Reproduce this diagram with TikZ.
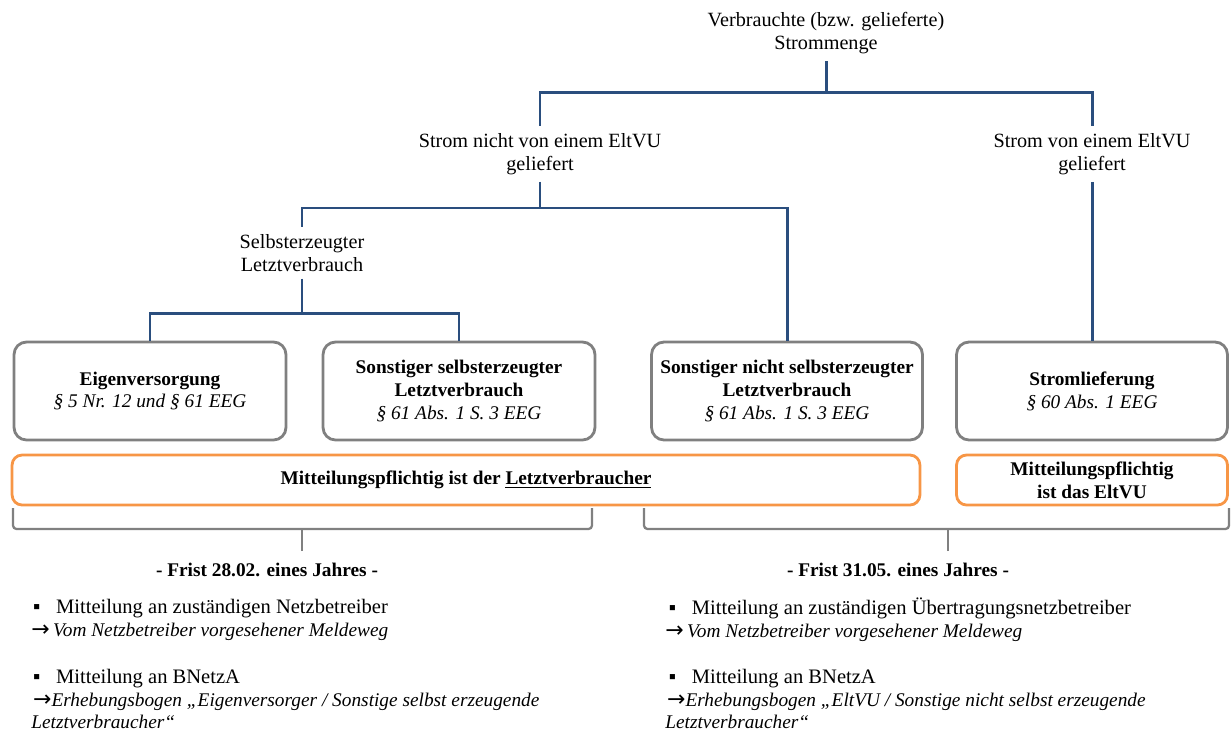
\documentclass[tikz,border=0pt]{standalone}
\usepackage{fontspec}
\setmainfont{Liberation Serif}
\newfontfamily\pfeilfont{DejaVu Sans}
\usetikzlibrary{positioning}

\definecolor{treeblue}{HTML}{2A4E7E}
\definecolor{casegray}{HTML}{808080}
\definecolor{dutyorange}{HTML}{F79646}

% Pfeil und kursiver Text in den Listen
\newcommand{\pfeil}{{\pfeilfont\fontsize{12.5}{13}\selectfont →}}
\newcommand{\kursiv}[1]{{\fontsize{11}{13}\selectfont\itshape #1}}

\begin{document}
\begin{tikzpicture}[
            x=0.02cm, y=-0.02cm,
            every node/.style={font=\fontsize{11}{13}\selectfont},
            label/.style={
                    align=center,
                    inner sep=4pt,
                    font=\fontsize{11.5}{13}\selectfont
                },
            case/.style={
                    rectangle,
                    rounded corners=0.25cm,
                    draw=casegray,
                    line width=1.6pt,
                    minimum width=5.44cm,
                    minimum height=1.96cm,
                    align=center
                },
            duty/.style={
                    rectangle,
                    rounded corners=0.2cm,
                    draw=dutyorange,
                    line width=1.6pt,
                    minimum height=1.0cm,
                    align=center,
                    font=\fontsize{11}{13}\selectfont\bfseries
                },
            frist/.style={
                    font=\fontsize{11}{13}\selectfont\bfseries
                },
            tree/.style={
                    draw=treeblue,
                    line width=1.7pt
                },
            brace/.style={
                    draw=casegray,
                    line width=1.3pt,
                    rounded corners=2pt
                },
            item/.style={
                    anchor=west,
                    align=left,
                    inner sep=0pt,
                    font=\fontsize{11.7}{13}\selectfont
                }
            ]

            \useasboundingbox (0,0) rectangle (1231,731);

            % Baum der Strommengen
            \node (menge) [label] at (826,33) {Verbrauchte (bzw. gelieferte)\\Strommenge};
            \node (nichtvu) [label] at (540,154) {Strom nicht von einem EltVU\\geliefert};
            \node (vonvu) [label] at (1092,154) {Strom von einem EltVU\\geliefert};
            \node (selbst) [label] at (302,253) {Selbsterzeugter\\Letztverbrauch};

            % Fallgruppen
            \node (eigen) [case] at (150,391) {\textbf{Eigenversorgung}\\\textit{§ 5 Nr. 12 und § 61 EEG}};
            \node (sonstselbst) [case] at (459,391) {\textbf{Sonstiger selbsterzeugter}\\\textbf{Letztverbrauch}\\\textit{§ 61 Abs. 1 S. 3 EEG}};
            \node (sonstnicht) [case, minimum width=5.42cm] at (787,391) {\textbf{Sonstiger nicht selbsterzeugter}\\\textbf{Letztverbrauch}\\\textit{§ 61 Abs. 1 S. 3 EEG}};
            \node (lieferung) [case, minimum width=5.42cm] at (1092,391) {\textbf{Stromlieferung}\\\textit{§ 60 Abs. 1 EEG}};

            % Mitteilungspflicht
            \node (pflichtlv) [duty, minimum width=18.16cm] at (466,480) {Mitteilungspflichtig ist der \underline{Letztverbraucher}};
            \node (pflichtvu) [duty, minimum width=5.42cm] at (1092,480) {Mitteilungspflichtig\\ist das EltVU};

            % Linien
            \draw [tree] (menge.south) -- ++(0,31) -| (nichtvu.north);
            \draw [tree] (menge.south) -- ++(0,31) -| (vonvu.north);
            \draw [tree] (nichtvu.south) -- ++(0,26) -| (selbst.north);
            \draw [tree] (nichtvu.south) -- ++(0,26) -| (sonstnicht.north);
            \draw [tree] (selbst.south) -- ++(0,35) -| (eigen.north);
            \draw [tree] (selbst.south) -- ++(0,35) -| (sonstselbst.north);
            \draw [tree] (vonvu.south) -- (lieferung.north);

            % Klammern
            \coordinate (bl1) at (13,508);
            \coordinate (bl2) at (592,508);
            \coordinate (blm) at (302,529);
            \coordinate (bl3) at (302,551);
            \coordinate (br1) at (644,508);
            \coordinate (br2) at (1229,508);
            \coordinate (brm) at (948,529);
            \coordinate (br3) at (948,551);
            \draw [brace] (bl1) |- (blm) -| (bl2);
            \draw [brace] (bl3) -- (blm);
            \draw [brace] (br1) |- (brm) -| (br2);
            \draw [brace] (br3) -- (brm);

            % Fristen
            \node (fristlv) [frist] at (267,570) {- Frist 28.02. eines Jahres -};
            \node (fristvu) [frist] at (898,570) {- Frist 31.05. eines Jahres -};

            \node (netzlv) [item] at (31,620) {\hspace*{1pt}▪\hspace{9pt}Mitteilung an zuständigen Netzbetreiber\\\pfeil\,\kursiv{Vom Netzbetreiber vorgesehener Meldeweg}};
            \node (bnetzlv) [item] at (31,699) {\hspace*{1pt}▪\hspace{9pt}Mitteilung an BNetzA\\\hspace*{1pt}\pfeil\kursiv{Erhebungsbogen „Eigenversorger / Sonstige selbst erzeugende}\\\kursiv{Letztverbraucher“}};
            \node (netzvu) [item] at (665,620) {\hspace*{2pt}▪\hspace{9pt}Mitteilung an zuständigen Übertragungsnetzbetreiber\\\pfeil\,\kursiv{Vom Netzbetreiber vorgesehener Meldeweg}};
            \node (bnetzvu) [item] at (665,699) {\hspace*{2pt}▪\hspace{9pt}Mitteilung an BNetzA\\\hspace*{1pt}\pfeil\kursiv{Erhebungsbogen „EltVU / Sonstige nicht selbst erzeugende}\\\kursiv{Letztverbraucher“}};

        \end{tikzpicture}
\end{document}
